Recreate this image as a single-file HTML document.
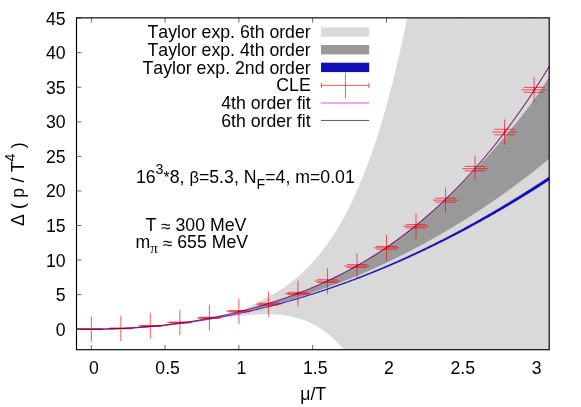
<!DOCTYPE html>
<html><head><meta charset="utf-8"><title>plot</title><style>html,body{margin:0;padding:0;background:#fff}body{width:581px;height:407px;overflow:hidden;position:relative}</style></head><body>
<svg width="581" height="407" viewBox="0 0 581 407" style="position:absolute;left:0;top:0;will-change:transform">
<defs><clipPath id="cp"><rect x="76.5" y="17.85" width="472.70000000000005" height="331.84999999999997"/></clipPath></defs>
<rect width="581" height="407" fill="#fff"/>
<path d="M91.30,349.7v-4.8 M91.30,17.85v4.8 M165.10,349.7v-4.8 M165.10,17.85v4.8 M238.90,349.7v-4.8 M238.90,17.85v4.8 M312.70,349.7v-4.8 M312.70,17.85v4.8 M386.50,349.7v-4.8 M386.50,17.85v4.8 M460.30,349.7v-4.8 M460.30,17.85v4.8 M534.10,349.7v-4.8 M534.10,17.85v4.8 M76.5,329.20h4.8 M549.2,329.20h-4.8 M76.5,294.63h4.8 M549.2,294.63h-4.8 M76.5,260.06h4.8 M549.2,260.06h-4.8 M76.5,225.50h4.8 M549.2,225.50h-4.8 M76.5,190.93h4.8 M549.2,190.93h-4.8 M76.5,156.36h4.8 M549.2,156.36h-4.8 M76.5,121.79h4.8 M549.2,121.79h-4.8 M76.5,87.23h4.8 M549.2,87.23h-4.8 M76.5,52.66h4.8 M549.2,52.66h-4.8 M76.5,18.09h4.8 M549.2,18.09h-4.8" stroke="#000" stroke-width="0.6" fill="none"/>
<g clip-path="url(#cp)">
<path d="M75.80,329.03 L76.75,329.05 L77.70,329.07 L78.65,329.08 L79.60,329.10 L80.55,329.12 L81.50,329.13 L82.45,329.14 L83.40,329.15 L84.35,329.16 L85.30,329.17 L86.25,329.18 L87.20,329.19 L88.15,329.19 L89.09,329.20 L90.04,329.20 L90.99,329.20 L91.94,329.20 L92.89,329.20 L93.84,329.19 L94.79,329.19 L95.74,329.19 L96.69,329.18 L97.64,329.17 L98.59,329.16 L99.54,329.15 L100.49,329.14 L101.44,329.13 L102.39,329.11 L103.34,329.09 L104.29,329.08 L105.24,329.06 L106.19,329.04 L107.14,329.02 L108.08,329.00 L109.03,328.97 L109.98,328.95 L110.93,328.92 L111.88,328.89 L112.83,328.86 L113.78,328.83 L114.73,328.80 L115.68,328.77 L116.63,328.74 L117.58,328.70 L118.53,328.66 L119.48,328.63 L120.43,328.59 L121.38,328.55 L122.33,328.50 L123.28,328.46 L124.23,328.42 L125.18,328.37 L126.13,328.32 L127.07,328.27 L128.02,328.22 L128.97,328.17 L129.92,328.12 L130.87,328.07 L131.82,328.01 L132.77,327.95 L133.72,327.89 L134.67,327.84 L135.62,327.77 L136.57,327.71 L137.52,327.65 L138.47,327.58 L139.42,327.52 L140.37,327.45 L141.32,327.38 L142.27,327.31 L143.22,327.24 L144.17,327.17 L145.11,327.09 L146.06,327.02 L147.01,326.94 L147.96,326.86 L148.91,326.78 L149.86,326.70 L150.81,326.62 L151.76,326.53 L152.71,326.45 L153.66,326.36 L154.61,326.27 L155.56,326.18 L156.51,326.09 L157.46,326.00 L158.41,325.90 L159.36,325.81 L160.31,325.71 L161.26,325.61 L162.21,325.51 L163.16,325.41 L164.10,325.31 L165.05,325.21 L166.00,325.10 L166.95,324.99 L167.90,324.88 L168.85,324.77 L169.80,324.66 L170.75,324.55 L171.70,324.44 L172.65,324.32 L173.60,324.20 L174.55,324.08 L175.50,323.96 L176.45,323.84 L177.40,323.72 L178.35,323.60 L179.30,323.47 L180.25,323.34 L181.20,323.21 L182.14,323.08 L183.09,322.95 L184.04,322.82 L184.99,322.68 L185.94,322.54 L186.89,322.40 L187.84,322.26 L188.79,322.12 L189.74,321.98 L190.69,321.84 L191.64,321.69 L192.59,321.54 L193.54,321.39 L194.49,321.24 L195.44,321.09 L196.39,320.93 L197.34,320.78 L198.29,320.62 L199.24,320.46 L200.19,320.30 L201.13,320.14 L202.08,319.98 L203.03,319.81 L203.98,319.64 L204.93,319.47 L205.88,319.30 L206.83,319.13 L207.78,318.96 L208.73,318.78 L209.68,318.61 L210.63,318.43 L211.58,318.25 L212.53,318.06 L213.48,317.88 L214.43,317.69 L215.38,317.51 L216.33,317.32 L217.28,317.13 L218.23,316.93 L219.18,316.74 L220.12,316.54 L221.07,316.35 L222.02,316.15 L222.97,315.95 L223.92,315.74 L224.87,315.54 L225.82,315.33 L226.77,315.12 L227.72,314.91 L228.67,314.70 L229.62,314.49 L230.57,314.27 L231.52,314.05 L232.47,313.83 L233.42,313.61 L234.37,313.39 L235.32,313.16 L236.27,312.94 L237.22,312.71 L238.16,312.48 L239.11,312.19 L240.06,311.73 L241.01,311.27 L241.96,310.80 L242.91,310.33 L243.86,309.86 L244.81,309.38 L245.76,308.91 L246.71,308.43 L247.66,307.95 L248.61,307.47 L249.56,306.99 L250.51,306.50 L251.46,306.01 L252.41,305.53 L253.36,305.03 L254.31,304.54 L255.26,304.05 L256.21,303.55 L257.15,303.05 L258.10,302.55 L259.05,302.04 L260.00,301.54 L260.95,301.03 L261.90,300.52 L262.85,300.01 L263.80,299.49 L264.75,298.98 L265.70,298.46 L266.65,297.94 L267.60,297.42 L268.55,296.90 L269.50,296.38 L270.45,295.85 L271.40,295.32 L272.35,294.78 L273.30,294.23 L274.25,293.67 L275.20,293.10 L276.14,292.53 L277.09,291.94 L278.04,291.35 L278.99,290.75 L279.94,290.14 L280.89,289.52 L281.84,288.89 L282.79,288.25 L283.74,287.60 L284.69,286.94 L285.64,286.27 L286.59,285.59 L287.54,284.90 L288.49,284.20 L289.44,283.49 L290.39,282.77 L291.34,282.03 L292.29,281.29 L293.24,280.53 L294.18,279.77 L295.13,278.99 L296.08,278.19 L297.03,277.39 L297.98,276.57 L298.93,275.74 L299.88,274.90 L300.83,274.04 L301.78,273.18 L302.73,272.29 L303.68,271.40 L304.63,270.49 L305.58,269.56 L306.53,268.62 L307.48,267.67 L308.43,266.70 L309.38,265.72 L310.33,264.72 L311.28,263.71 L312.23,262.68 L313.17,261.63 L314.12,260.57 L315.07,259.49 L316.02,258.39 L316.97,257.28 L317.92,256.15 L318.87,255.00 L319.82,253.84 L320.77,252.65 L321.72,251.45 L322.67,250.23 L323.62,248.99 L324.57,247.73 L325.52,246.45 L326.47,245.15 L327.42,243.83 L328.37,242.49 L329.32,241.13 L330.27,239.75 L331.22,238.34 L332.16,236.92 L333.11,235.47 L334.06,234.00 L335.01,232.51 L335.96,230.99 L336.91,229.45 L337.86,227.88 L338.81,226.30 L339.76,224.68 L340.71,223.04 L341.66,221.38 L342.61,219.69 L343.56,217.98 L344.51,216.23 L345.46,214.46 L346.41,212.67 L347.36,210.84 L348.31,208.99 L349.26,207.11 L350.20,205.20 L351.15,203.26 L352.10,201.29 L353.05,199.29 L354.00,197.26 L354.95,195.20 L355.90,193.11 L356.85,190.98 L357.80,188.82 L358.75,186.63 L359.70,184.40 L360.65,182.15 L361.60,179.85 L362.55,177.52 L363.50,175.16 L364.45,172.76 L365.40,170.32 L366.35,167.85 L367.30,165.34 L368.25,162.79 L369.19,160.20 L370.14,157.57 L371.09,154.90 L372.04,152.19 L372.99,149.44 L373.94,146.65 L374.89,143.82 L375.84,140.95 L376.79,138.03 L377.74,135.06 L378.69,132.06 L379.64,129.00 L380.59,125.91 L381.54,122.76 L382.49,119.57 L383.44,116.33 L384.39,113.04 L385.34,109.70 L386.29,106.32 L387.24,102.88 L388.18,99.39 L389.13,95.85 L390.08,92.26 L391.03,88.61 L391.98,84.91 L392.93,81.16 L393.88,77.35 L394.83,73.48 L395.78,69.56 L396.73,65.57 L397.68,61.53 L398.63,57.44 L399.58,53.28 L400.53,49.06 L401.48,44.77 L402.43,40.43 L403.38,36.02 L404.33,31.55 L405.28,27.01 L406.22,22.41 L407.17,17.74 L408.12,13.00 L409.07,8.20 L410.02,3.32 L410.97,-1.63 L411.92,-6.64 L412.87,-11.73 L413.82,-16.90 L414.77,-22.13 L415.72,-27.45 L416.67,-32.83 L417.62,-38.30 L418.57,-43.84 L419.52,-49.47 L420.47,-55.17 L421.42,-60.95 L422.37,-66.82 L423.32,-72.77 L424.27,-78.80 L425.21,-84.92 L426.16,-85.61 L427.11,-85.61 L428.06,-85.61 L429.01,-85.61 L429.96,-85.61 L430.91,-85.61 L431.86,-85.61 L432.81,-85.61 L433.76,-85.61 L434.71,-85.61 L435.66,-85.61 L436.61,-85.61 L437.56,-85.61 L438.51,-85.61 L439.46,-85.61 L440.41,-85.61 L441.36,-85.61 L442.31,-85.61 L443.26,-85.61 L444.20,-85.61 L445.15,-85.61 L446.10,-85.61 L447.05,-85.61 L448.00,-85.61 L448.95,-85.61 L449.90,-85.61 L450.85,-85.61 L451.80,-85.61 L452.75,-85.61 L453.70,-85.61 L454.65,-85.61 L455.60,-85.61 L456.55,-85.61 L457.50,-85.61 L458.45,-85.61 L459.40,-85.61 L460.35,-85.61 L461.30,-85.61 L462.24,-85.61 L463.19,-85.61 L464.14,-85.61 L465.09,-85.61 L466.04,-85.61 L466.99,-85.61 L467.94,-85.61 L468.89,-85.61 L469.84,-85.61 L470.79,-85.61 L471.74,-85.61 L472.69,-85.61 L473.64,-85.61 L474.59,-85.61 L475.54,-85.61 L476.49,-85.61 L477.44,-85.61 L478.39,-85.61 L479.34,-85.61 L480.29,-85.61 L481.23,-85.61 L482.18,-85.61 L483.13,-85.61 L484.08,-85.61 L485.03,-85.61 L485.98,-85.61 L486.93,-85.61 L487.88,-85.61 L488.83,-85.61 L489.78,-85.61 L490.73,-85.61 L491.68,-85.61 L492.63,-85.61 L493.58,-85.61 L494.53,-85.61 L495.48,-85.61 L496.43,-85.61 L497.38,-85.61 L498.33,-85.61 L499.27,-85.61 L500.22,-85.61 L501.17,-85.61 L502.12,-85.61 L503.07,-85.61 L504.02,-85.61 L504.97,-85.61 L505.92,-85.61 L506.87,-85.61 L507.82,-85.61 L508.77,-85.61 L509.72,-85.61 L510.67,-85.61 L511.62,-85.61 L512.57,-85.61 L513.52,-85.61 L514.47,-85.61 L515.42,-85.61 L516.37,-85.61 L517.32,-85.61 L518.26,-85.61 L519.21,-85.61 L520.16,-85.61 L521.11,-85.61 L522.06,-85.61 L523.01,-85.61 L523.96,-85.61 L524.91,-85.61 L525.86,-85.61 L526.81,-85.61 L527.76,-85.61 L528.71,-85.61 L529.66,-85.61 L530.61,-85.61 L531.56,-85.61 L532.51,-85.61 L533.46,-85.61 L534.41,-85.61 L535.36,-85.61 L536.31,-85.61 L537.25,-85.61 L538.20,-85.61 L539.15,-85.61 L540.10,-85.61 L541.05,-85.61 L542.00,-85.61 L542.95,-85.61 L543.90,-85.61 L544.85,-85.61 L545.80,-85.61 L546.75,-85.61 L547.70,-85.61 L548.65,-85.61 L549.60,-85.61 L549.60,412.16 L548.65,412.16 L547.70,412.16 L546.75,412.16 L545.80,412.16 L544.85,412.16 L543.90,412.16 L542.95,412.16 L542.00,412.16 L541.05,412.16 L540.10,412.16 L539.15,412.16 L538.20,412.16 L537.25,412.16 L536.31,412.16 L535.36,412.16 L534.41,412.16 L533.46,412.16 L532.51,412.16 L531.56,412.16 L530.61,412.16 L529.66,412.16 L528.71,412.16 L527.76,412.16 L526.81,412.16 L525.86,412.16 L524.91,412.16 L523.96,412.16 L523.01,412.16 L522.06,412.16 L521.11,412.16 L520.16,412.16 L519.21,412.16 L518.26,412.16 L517.32,412.16 L516.37,412.16 L515.42,412.16 L514.47,412.16 L513.52,412.16 L512.57,412.16 L511.62,412.16 L510.67,412.16 L509.72,412.16 L508.77,412.16 L507.82,412.16 L506.87,412.16 L505.92,412.16 L504.97,412.16 L504.02,412.16 L503.07,412.16 L502.12,412.16 L501.17,412.16 L500.22,412.16 L499.27,412.16 L498.33,412.16 L497.38,412.16 L496.43,412.16 L495.48,412.16 L494.53,412.16 L493.58,412.16 L492.63,412.16 L491.68,412.16 L490.73,412.16 L489.78,412.16 L488.83,412.16 L487.88,412.16 L486.93,412.16 L485.98,412.16 L485.03,412.16 L484.08,412.16 L483.13,412.16 L482.18,412.16 L481.23,412.16 L480.29,412.16 L479.34,412.16 L478.39,412.16 L477.44,412.16 L476.49,412.16 L475.54,412.16 L474.59,412.16 L473.64,412.16 L472.69,412.16 L471.74,412.16 L470.79,412.16 L469.84,412.16 L468.89,412.16 L467.94,412.16 L466.99,412.16 L466.04,412.16 L465.09,412.16 L464.14,412.16 L463.19,412.16 L462.24,412.16 L461.30,412.16 L460.35,412.16 L459.40,412.16 L458.45,412.16 L457.50,412.16 L456.55,412.16 L455.60,412.16 L454.65,412.16 L453.70,412.16 L452.75,412.16 L451.80,412.16 L450.85,412.16 L449.90,412.16 L448.95,412.16 L448.00,412.16 L447.05,412.16 L446.10,412.16 L445.15,412.16 L444.20,412.16 L443.26,412.16 L442.31,412.16 L441.36,412.16 L440.41,412.16 L439.46,412.16 L438.51,412.16 L437.56,412.16 L436.61,412.16 L435.66,412.16 L434.71,412.16 L433.76,412.16 L432.81,412.16 L431.86,412.16 L430.91,412.16 L429.96,412.16 L429.01,412.16 L428.06,412.16 L427.11,412.16 L426.16,412.16 L425.21,412.16 L424.27,412.16 L423.32,412.16 L422.37,412.16 L421.42,412.16 L420.47,412.16 L419.52,412.16 L418.57,412.16 L417.62,412.16 L416.67,412.16 L415.72,412.16 L414.77,412.16 L413.82,412.16 L412.87,412.16 L411.92,412.16 L410.97,412.16 L410.02,412.16 L409.07,412.16 L408.12,412.16 L407.17,412.16 L406.22,412.16 L405.28,412.16 L404.33,412.16 L403.38,412.16 L402.43,412.16 L401.48,412.16 L400.53,412.16 L399.58,412.16 L398.63,412.16 L397.68,412.16 L396.73,412.16 L395.78,412.16 L394.83,412.16 L393.88,412.16 L392.93,412.16 L391.98,412.16 L391.03,412.16 L390.08,412.16 L389.13,412.16 L388.18,412.16 L387.24,412.16 L386.29,412.16 L385.34,412.16 L384.39,412.16 L383.44,412.16 L382.49,412.16 L381.54,412.16 L380.59,412.16 L379.64,412.16 L378.69,412.16 L377.74,412.16 L376.79,411.42 L375.84,408.99 L374.89,406.60 L373.94,404.26 L372.99,401.97 L372.04,399.71 L371.09,397.50 L370.14,395.34 L369.19,393.21 L368.25,391.13 L367.30,389.09 L366.35,387.09 L365.40,385.13 L364.45,383.20 L363.50,381.32 L362.55,379.48 L361.60,377.67 L360.65,375.90 L359.70,374.17 L358.75,372.47 L357.80,370.80 L356.85,369.18 L355.90,367.58 L354.95,366.03 L354.00,364.50 L353.05,363.01 L352.10,361.55 L351.15,360.12 L350.20,358.72 L349.26,357.36 L348.31,356.02 L347.36,354.71 L346.41,353.44 L345.46,352.19 L344.51,350.97 L343.56,349.78 L342.61,348.62 L341.66,347.48 L340.71,346.38 L339.76,345.29 L338.81,344.24 L337.86,343.21 L336.91,342.20 L335.96,341.22 L335.01,340.27 L334.06,339.33 L333.11,338.42 L332.16,337.54 L331.22,336.68 L330.27,335.84 L329.32,335.02 L328.37,334.22 L327.42,333.45 L326.47,332.69 L325.52,331.96 L324.57,331.24 L323.62,330.55 L322.67,329.88 L321.72,329.22 L320.77,328.58 L319.82,327.97 L318.87,327.37 L317.92,326.78 L316.97,326.22 L316.02,325.67 L315.07,325.14 L314.12,324.63 L313.17,324.13 L312.23,323.65 L311.28,323.18 L310.33,322.73 L309.38,322.30 L308.43,321.88 L307.48,321.47 L306.53,321.08 L305.58,320.70 L304.63,320.33 L303.68,319.98 L302.73,319.65 L301.78,319.32 L300.83,319.01 L299.88,318.71 L298.93,318.42 L297.98,318.15 L297.03,317.88 L296.08,317.63 L295.13,317.39 L294.18,317.16 L293.24,316.94 L292.29,316.73 L291.34,316.53 L290.39,316.34 L289.44,316.16 L288.49,315.99 L287.54,315.83 L286.59,315.68 L285.64,315.53 L284.69,315.40 L283.74,315.27 L282.79,315.16 L281.84,315.05 L280.89,314.95 L279.94,314.86 L278.99,314.77 L278.04,314.69 L277.09,314.62 L276.14,314.56 L275.20,314.50 L274.25,314.45 L273.30,314.41 L272.35,314.37 L271.40,314.34 L270.45,314.32 L269.50,314.30 L268.55,314.29 L267.60,314.28 L266.65,314.28 L265.70,314.28 L264.75,314.29 L263.80,314.31 L262.85,314.32 L261.90,314.35 L260.95,314.38 L260.00,314.41 L259.05,314.45 L258.10,314.49 L257.15,314.53 L256.21,314.58 L255.26,314.64 L254.31,314.69 L253.36,314.75 L252.41,314.82 L251.46,314.88 L250.51,314.95 L249.56,315.03 L248.61,315.11 L247.66,315.19 L246.71,315.27 L245.76,315.35 L244.81,315.44 L243.86,315.53 L242.91,315.62 L241.96,315.72 L241.01,315.82 L240.06,315.92 L239.11,316.02 L238.16,316.12 L237.22,316.23 L236.27,316.34 L235.32,316.45 L234.37,316.56 L233.42,316.67 L232.47,316.78 L231.52,316.90 L230.57,317.01 L229.62,317.13 L228.67,317.25 L227.72,317.37 L226.77,317.49 L225.82,317.62 L224.87,317.74 L223.92,317.86 L222.97,317.99 L222.02,318.11 L221.07,318.24 L220.12,318.37 L219.18,318.49 L218.23,318.62 L217.28,318.75 L216.33,318.88 L215.38,319.01 L214.43,319.14 L213.48,319.27 L212.53,319.40 L211.58,319.53 L210.63,319.66 L209.68,319.79 L208.73,319.92 L207.78,320.05 L206.83,320.18 L205.88,320.31 L204.93,320.44 L203.98,320.57 L203.03,320.70 L202.08,320.83 L201.13,320.95 L200.19,321.08 L199.24,321.21 L198.29,321.34 L197.34,321.47 L196.39,321.59 L195.44,321.72 L194.49,321.84 L193.54,321.97 L192.59,322.09 L191.64,322.22 L190.69,322.34 L189.74,322.46 L188.79,322.59 L187.84,322.71 L186.89,322.83 L185.94,322.95 L184.99,323.07 L184.04,323.18 L183.09,323.30 L182.14,323.42 L181.20,323.53 L180.25,323.65 L179.30,323.76 L178.35,323.87 L177.40,323.99 L176.45,324.10 L175.50,324.21 L174.55,324.32 L173.60,324.42 L172.65,324.53 L171.70,324.64 L170.75,324.74 L169.80,324.84 L168.85,324.95 L167.90,325.05 L166.95,325.15 L166.00,325.25 L165.05,325.35 L164.10,325.44 L163.16,325.54 L162.21,325.63 L161.26,325.73 L160.31,325.82 L159.36,325.91 L158.41,326.00 L157.46,326.09 L156.51,326.18 L155.56,326.27 L154.61,326.35 L153.66,326.44 L152.71,326.52 L151.76,326.60 L150.81,326.68 L149.86,326.76 L148.91,326.84 L147.96,326.92 L147.01,326.99 L146.06,327.07 L145.11,327.14 L144.17,327.21 L143.22,327.28 L142.27,327.35 L141.32,327.42 L140.37,327.49 L139.42,327.55 L138.47,327.62 L137.52,327.68 L136.57,327.74 L135.62,327.80 L134.67,327.86 L133.72,327.92 L132.77,327.98 L131.82,328.03 L130.87,328.08 L129.92,328.14 L128.97,328.19 L128.02,328.24 L127.07,328.29 L126.13,328.34 L125.18,328.38 L124.23,328.43 L123.28,328.47 L122.33,328.51 L121.38,328.56 L120.43,328.60 L119.48,328.63 L118.53,328.67 L117.58,328.71 L116.63,328.74 L115.68,328.78 L114.73,328.81 L113.78,328.84 L112.83,328.87 L111.88,328.90 L110.93,328.93 L109.98,328.95 L109.03,328.98 L108.08,329.00 L107.14,329.02 L106.19,329.04 L105.24,329.06 L104.29,329.08 L103.34,329.10 L102.39,329.11 L101.44,329.13 L100.49,329.14 L99.54,329.15 L98.59,329.16 L97.64,329.17 L96.69,329.18 L95.74,329.19 L94.79,329.19 L93.84,329.19 L92.89,329.20 L91.94,329.20 L90.99,329.20 L90.04,329.20 L89.09,329.20 L88.15,329.19 L87.20,329.19 L86.25,329.18 L85.30,329.17 L84.35,329.17 L83.40,329.15 L82.45,329.14 L81.50,329.13 L80.55,329.12 L79.60,329.10 L78.65,329.09 L77.70,329.07 L76.75,329.05 L75.80,329.03Z" fill="#d9d9d9"/>
<path d="M75.80,329.01 L76.75,329.03 L77.70,329.05 L78.65,329.07 L79.60,329.09 L80.55,329.11 L81.50,329.12 L82.45,329.13 L83.40,329.15 L84.35,329.16 L85.30,329.17 L86.25,329.18 L87.20,329.18 L88.15,329.19 L89.09,329.19 L90.04,329.20 L90.99,329.20 L91.94,329.20 L92.89,329.20 L93.84,329.20 L94.79,329.19 L95.74,329.19 L96.69,329.18 L97.64,329.18 L98.59,329.17 L99.54,329.16 L100.49,329.15 L101.44,329.13 L102.39,329.12 L103.34,329.11 L104.29,329.09 L105.24,329.07 L106.19,329.05 L107.14,329.03 L108.08,329.01 L109.03,328.99 L109.98,328.97 L110.93,328.94 L111.88,328.91 L112.83,328.89 L113.78,328.86 L114.73,328.83 L115.68,328.79 L116.63,328.76 L117.58,328.73 L118.53,328.69 L119.48,328.65 L120.43,328.61 L121.38,328.57 L122.33,328.53 L123.28,328.49 L124.23,328.45 L125.18,328.40 L126.13,328.35 L127.07,328.31 L128.02,328.26 L128.97,328.21 L129.92,328.16 L130.87,328.10 L131.82,328.05 L132.77,327.99 L133.72,327.93 L134.67,327.88 L135.62,327.82 L136.57,327.75 L137.52,327.69 L138.47,327.63 L139.42,327.56 L140.37,327.50 L141.32,327.43 L142.27,327.36 L143.22,327.29 L144.17,327.22 L145.11,327.14 L146.06,327.07 L147.01,326.99 L147.96,326.91 L148.91,326.83 L149.86,326.75 L150.81,326.67 L151.76,326.59 L152.71,326.50 L153.66,326.42 L154.61,326.33 L155.56,326.24 L156.51,326.15 L157.46,326.06 L158.41,325.97 L159.36,325.87 L160.31,325.78 L161.26,325.68 L162.21,325.58 L163.16,325.48 L164.10,325.38 L165.05,325.27 L166.00,325.17 L166.95,325.06 L167.90,324.96 L168.85,324.85 L169.80,324.74 L170.75,324.63 L171.70,324.51 L172.65,324.40 L173.60,324.28 L174.55,324.16 L175.50,324.04 L176.45,323.92 L177.40,323.80 L178.35,323.68 L179.30,323.55 L180.25,323.42 L181.20,323.30 L182.14,323.17 L183.09,323.03 L184.04,322.90 L184.99,322.77 L185.94,322.63 L186.89,322.49 L187.84,322.35 L188.79,322.21 L189.74,322.07 L190.69,321.93 L191.64,321.78 L192.59,321.64 L193.54,321.49 L194.49,321.34 L195.44,321.19 L196.39,321.03 L197.34,320.88 L198.29,320.72 L199.24,320.56 L200.19,320.40 L201.13,320.24 L202.08,320.08 L203.03,319.91 L203.98,319.75 L204.93,319.58 L205.88,319.41 L206.83,319.24 L207.78,319.07 L208.73,318.89 L209.68,318.72 L210.63,318.54 L211.58,318.36 L212.53,318.18 L213.48,317.99 L214.43,317.81 L215.38,317.62 L216.33,317.43 L217.28,317.24 L218.23,317.05 L219.18,316.86 L220.12,316.66 L221.07,316.47 L222.02,316.27 L222.97,316.07 L223.92,315.87 L224.87,315.66 L225.82,315.46 L226.77,315.25 L227.72,315.04 L228.67,314.83 L229.62,314.62 L230.57,314.40 L231.52,314.18 L232.47,313.97 L233.42,313.75 L234.37,313.52 L235.32,313.30 L236.27,313.07 L237.22,312.85 L238.16,312.62 L239.11,312.38 L240.06,312.15 L241.01,311.91 L241.96,311.68 L242.91,311.44 L243.86,311.19 L244.81,310.95 L245.76,310.70 L246.71,310.46 L247.66,310.21 L248.61,309.95 L249.56,309.70 L250.51,309.45 L251.46,309.19 L252.41,308.93 L253.36,308.67 L254.31,308.40 L255.26,308.14 L256.21,307.87 L257.15,307.60 L258.10,307.33 L259.05,307.05 L260.00,306.78 L260.95,306.50 L261.90,306.22 L262.85,305.94 L263.80,305.65 L264.75,305.36 L265.70,305.08 L266.65,304.79 L267.60,304.49 L268.55,304.20 L269.50,303.90 L270.45,303.60 L271.40,303.30 L272.35,302.99 L273.30,302.69 L274.25,302.38 L275.20,302.07 L276.14,301.76 L277.09,301.44 L278.04,301.12 L278.99,300.81 L279.94,300.48 L280.89,300.16 L281.84,299.83 L282.79,299.50 L283.74,299.17 L284.69,298.84 L285.64,298.51 L286.59,298.17 L287.54,297.83 L288.49,297.48 L289.44,297.14 L290.39,296.79 L291.34,296.44 L292.29,296.09 L293.24,295.74 L294.18,295.38 L295.13,295.02 L296.08,294.66 L297.03,294.29 L297.98,293.93 L298.93,293.56 L299.88,293.19 L300.83,292.81 L301.78,292.43 L302.73,292.06 L303.68,291.67 L304.63,291.29 L305.58,290.90 L306.53,290.51 L307.48,290.12 L308.43,289.73 L309.38,289.33 L310.33,288.93 L311.28,288.53 L312.23,288.12 L313.17,287.72 L314.12,287.30 L315.07,286.89 L316.02,286.48 L316.97,286.06 L317.92,285.64 L318.87,285.21 L319.82,284.79 L320.77,284.36 L321.72,283.93 L322.67,283.49 L323.62,283.05 L324.57,282.61 L325.52,282.17 L326.47,281.72 L327.42,281.28 L328.37,280.82 L329.32,280.37 L330.27,279.91 L331.22,279.45 L332.16,278.99 L333.11,278.52 L334.06,278.05 L335.01,277.58 L335.96,277.11 L336.91,276.63 L337.86,276.15 L338.81,275.67 L339.76,275.18 L340.71,274.69 L341.66,274.20 L342.61,273.70 L343.56,273.20 L344.51,272.70 L345.46,272.20 L346.41,271.69 L347.36,271.18 L348.31,270.67 L349.26,270.15 L350.20,269.63 L351.15,269.11 L352.10,268.58 L353.05,268.05 L354.00,267.52 L354.95,266.98 L355.90,266.44 L356.85,265.90 L357.80,265.35 L358.75,264.80 L359.70,264.25 L360.65,263.70 L361.60,263.14 L362.55,262.58 L363.50,262.01 L364.45,261.44 L365.40,260.87 L366.35,260.29 L367.30,259.72 L368.25,259.13 L369.19,258.55 L370.14,257.96 L371.09,257.37 L372.04,256.77 L372.99,256.17 L373.94,255.57 L374.89,254.96 L375.84,254.35 L376.79,253.74 L377.74,253.12 L378.69,252.50 L379.64,251.88 L380.59,251.25 L381.54,250.62 L382.49,249.98 L383.44,249.34 L384.39,248.70 L385.34,248.06 L386.29,247.41 L387.24,246.75 L388.18,246.10 L389.13,245.44 L390.08,244.77 L391.03,244.10 L391.98,243.43 L392.93,242.76 L393.88,242.08 L394.83,241.39 L395.78,240.71 L396.73,240.02 L397.68,239.32 L398.63,238.62 L399.58,237.92 L400.53,237.21 L401.48,236.50 L402.43,235.79 L403.38,235.07 L404.33,234.35 L405.28,233.62 L406.22,232.89 L407.17,232.16 L408.12,231.42 L409.07,230.68 L410.02,229.93 L410.97,229.18 L411.92,228.42 L412.87,227.67 L413.82,226.90 L414.77,226.14 L415.72,225.36 L416.67,224.59 L417.62,223.81 L418.57,223.02 L419.52,222.24 L420.47,221.44 L421.42,220.65 L422.37,219.85 L423.32,219.04 L424.27,218.23 L425.21,217.42 L426.16,216.60 L427.11,215.78 L428.06,214.95 L429.01,214.12 L429.96,213.28 L430.91,212.44 L431.86,211.60 L432.81,210.75 L433.76,209.89 L434.71,209.03 L435.66,208.17 L436.61,207.30 L437.56,206.43 L438.51,205.55 L439.46,204.67 L440.41,203.79 L441.36,202.90 L442.31,202.00 L443.26,201.10 L444.20,200.20 L445.15,199.29 L446.10,198.39 L447.05,197.50 L448.00,196.61 L448.95,195.71 L449.90,194.81 L450.85,193.90 L451.80,192.99 L452.75,192.08 L453.70,191.15 L454.65,190.23 L455.60,189.30 L456.55,188.36 L457.50,187.42 L458.45,186.47 L459.40,185.52 L460.35,184.57 L461.30,183.64 L462.24,182.71 L463.19,181.77 L464.14,180.83 L465.09,179.89 L466.04,178.93 L466.99,177.98 L467.94,177.02 L468.89,176.05 L469.84,175.08 L470.79,174.10 L471.74,173.12 L472.69,172.13 L473.64,171.14 L474.59,170.14 L475.54,169.14 L476.49,168.16 L477.44,167.16 L478.39,166.17 L479.34,165.16 L480.29,164.16 L481.23,163.14 L482.18,162.12 L483.13,161.10 L484.08,160.07 L485.03,159.03 L485.98,157.99 L486.93,156.94 L487.88,155.89 L488.83,154.83 L489.78,153.77 L490.73,152.72 L491.68,151.66 L492.63,150.60 L493.58,149.54 L494.53,148.47 L495.48,147.39 L496.43,146.31 L497.38,145.22 L498.33,144.13 L499.27,143.03 L500.22,141.92 L501.17,140.81 L502.12,139.70 L503.07,138.57 L504.02,137.44 L504.97,136.32 L505.92,135.22 L506.87,134.11 L507.82,132.99 L508.77,131.86 L509.72,130.74 L510.67,129.60 L511.62,128.46 L512.57,127.31 L513.52,126.15 L514.47,124.99 L515.42,123.83 L516.37,122.65 L517.32,121.48 L518.26,120.29 L519.21,119.10 L520.16,117.91 L521.11,116.71 L522.06,115.51 L523.01,114.30 L523.96,113.09 L524.91,111.86 L525.86,110.64 L526.81,109.40 L527.76,108.16 L528.71,106.91 L529.66,105.66 L530.61,104.40 L531.56,103.13 L532.51,101.86 L533.46,100.58 L534.41,99.26 L535.36,97.88 L536.31,96.49 L537.25,95.10 L538.20,93.69 L539.15,92.28 L540.10,90.87 L541.05,89.44 L542.00,88.01 L542.95,86.58 L543.90,85.13 L544.85,83.68 L545.80,82.22 L546.75,80.76 L547.70,79.29 L548.65,77.81 L549.60,76.27 L549.60,158.55 L548.65,159.33 L547.70,160.10 L546.75,160.88 L545.80,161.65 L544.85,162.42 L543.90,163.19 L542.95,163.95 L542.00,164.72 L541.05,165.48 L540.10,166.24 L539.15,166.99 L538.20,167.75 L537.25,168.50 L536.31,169.25 L535.36,170.00 L534.41,170.74 L533.46,171.49 L532.51,172.23 L531.56,172.97 L530.61,173.70 L529.66,174.44 L528.71,175.17 L527.76,175.90 L526.81,176.63 L525.86,177.36 L524.91,178.08 L523.96,178.80 L523.01,179.52 L522.06,180.24 L521.11,180.96 L520.16,181.67 L519.21,182.38 L518.26,183.09 L517.32,183.80 L516.37,184.50 L515.42,185.21 L514.47,185.91 L513.52,186.61 L512.57,187.30 L511.62,188.00 L510.67,188.69 L509.72,189.38 L508.77,190.07 L507.82,190.76 L506.87,191.44 L505.92,192.12 L504.97,192.80 L504.02,193.48 L503.07,194.16 L502.12,194.83 L501.17,195.51 L500.22,196.18 L499.27,196.84 L498.33,197.51 L497.38,198.17 L496.43,198.84 L495.48,199.50 L494.53,200.15 L493.58,200.81 L492.63,201.46 L491.68,202.12 L490.73,202.77 L489.78,203.41 L488.83,204.06 L487.88,204.70 L486.93,205.35 L485.98,205.99 L485.03,206.62 L484.08,207.26 L483.13,207.89 L482.18,208.53 L481.23,209.16 L480.29,209.79 L479.34,210.41 L478.39,211.04 L477.44,211.66 L476.49,212.28 L475.54,212.90 L474.59,213.51 L473.64,214.13 L472.69,214.74 L471.74,215.35 L470.79,215.96 L469.84,216.57 L468.89,217.17 L467.94,217.78 L466.99,218.38 L466.04,218.98 L465.09,219.57 L464.14,220.17 L463.19,220.76 L462.24,221.35 L461.30,221.94 L460.35,222.53 L459.40,223.12 L458.45,223.70 L457.50,224.28 L456.55,224.86 L455.60,225.44 L454.65,226.02 L453.70,226.59 L452.75,227.16 L451.80,227.73 L450.85,228.30 L449.90,228.87 L448.95,229.43 L448.00,230.00 L447.05,230.56 L446.10,231.12 L445.15,231.68 L444.20,232.23 L443.26,232.79 L442.31,233.34 L441.36,233.89 L440.41,234.44 L439.46,234.98 L438.51,235.53 L437.56,236.07 L436.61,236.61 L435.66,237.15 L434.71,237.69 L433.76,238.22 L432.81,238.76 L431.86,239.29 L430.91,239.82 L429.96,240.35 L429.01,240.87 L428.06,241.40 L427.11,241.92 L426.16,242.44 L425.21,242.96 L424.27,243.48 L423.32,244.00 L422.37,244.51 L421.42,245.02 L420.47,245.53 L419.52,246.04 L418.57,246.55 L417.62,247.05 L416.67,247.56 L415.72,248.06 L414.77,248.56 L413.82,249.06 L412.87,249.55 L411.92,250.05 L410.97,250.54 L410.02,251.03 L409.07,251.52 L408.12,252.01 L407.17,252.49 L406.22,252.98 L405.28,253.46 L404.33,253.94 L403.38,254.42 L402.43,254.90 L401.48,255.37 L400.53,255.84 L399.58,256.32 L398.63,256.79 L397.68,257.25 L396.73,257.72 L395.78,258.19 L394.83,258.65 L393.88,259.11 L392.93,259.57 L391.98,260.03 L391.03,260.49 L390.08,260.94 L389.13,261.39 L388.18,261.84 L387.24,262.29 L386.29,262.74 L385.34,263.19 L384.39,263.63 L383.44,264.08 L382.49,264.52 L381.54,264.96 L380.59,265.39 L379.64,265.83 L378.69,266.27 L377.74,266.70 L376.79,267.13 L375.84,267.56 L374.89,267.99 L373.94,268.41 L372.99,268.84 L372.04,269.26 L371.09,269.68 L370.14,270.10 L369.19,270.52 L368.25,270.94 L367.30,271.35 L366.35,271.76 L365.40,272.17 L364.45,272.58 L363.50,272.99 L362.55,273.40 L361.60,273.80 L360.65,274.21 L359.70,274.61 L358.75,275.01 L357.80,275.41 L356.85,275.80 L355.90,276.20 L354.95,276.59 L354.00,276.98 L353.05,277.37 L352.10,277.76 L351.15,278.15 L350.20,278.54 L349.26,278.92 L348.31,279.30 L347.36,279.68 L346.41,280.06 L345.46,280.44 L344.51,280.82 L343.56,281.19 L342.61,281.56 L341.66,281.93 L340.71,282.30 L339.76,282.67 L338.81,283.04 L337.86,283.40 L336.91,283.77 L335.96,284.13 L335.01,284.49 L334.06,284.85 L333.11,285.20 L332.16,285.56 L331.22,285.91 L330.27,286.26 L329.32,286.61 L328.37,286.96 L327.42,287.31 L326.47,287.66 L325.52,288.00 L324.57,288.34 L323.62,288.69 L322.67,289.03 L321.72,289.36 L320.77,289.70 L319.82,290.04 L318.87,290.37 L317.92,290.70 L316.97,291.03 L316.02,291.36 L315.07,291.69 L314.12,292.01 L313.17,292.34 L312.23,292.66 L311.28,292.99 L310.33,293.31 L309.38,293.64 L308.43,293.96 L307.48,294.28 L306.53,294.60 L305.58,294.91 L304.63,295.23 L303.68,295.54 L302.73,295.85 L301.78,296.16 L300.83,296.47 L299.88,296.78 L298.93,297.08 L297.98,297.39 L297.03,297.69 L296.08,297.99 L295.13,298.29 L294.18,298.59 L293.24,298.88 L292.29,299.18 L291.34,299.47 L290.39,299.76 L289.44,300.05 L288.49,300.34 L287.54,300.63 L286.59,300.91 L285.64,301.19 L284.69,301.48 L283.74,301.76 L282.79,302.04 L281.84,302.31 L280.89,302.59 L279.94,302.86 L278.99,303.14 L278.04,303.41 L277.09,303.68 L276.14,303.95 L275.20,304.21 L274.25,304.48 L273.30,304.74 L272.35,305.00 L271.40,305.26 L270.45,305.52 L269.50,305.78 L268.55,306.04 L267.60,306.29 L266.65,306.54 L265.70,306.80 L264.75,307.05 L263.80,307.29 L262.85,307.54 L261.90,307.79 L260.95,308.03 L260.00,308.27 L259.05,308.51 L258.10,308.75 L257.15,308.99 L256.21,309.23 L255.26,309.46 L254.31,309.70 L253.36,309.93 L252.41,310.16 L251.46,310.39 L250.51,310.62 L249.56,310.84 L248.61,311.07 L247.66,311.29 L246.71,311.51 L245.76,311.74 L244.81,311.95 L243.86,312.17 L242.91,312.39 L241.96,312.60 L241.01,312.82 L240.06,313.03 L239.11,313.24 L238.16,313.45 L237.22,313.65 L236.27,313.86 L235.32,314.06 L234.37,314.27 L233.42,314.47 L232.47,314.67 L231.52,314.87 L230.57,315.07 L229.62,315.26 L228.67,315.46 L227.72,315.65 L226.77,315.84 L225.82,316.03 L224.87,316.22 L223.92,316.41 L222.97,316.59 L222.02,316.78 L221.07,316.96 L220.12,317.14 L219.18,317.32 L218.23,317.50 L217.28,317.68 L216.33,317.85 L215.38,318.03 L214.43,318.20 L213.48,318.37 L212.53,318.54 L211.58,318.71 L210.63,318.88 L209.68,319.05 L208.73,319.21 L207.78,319.37 L206.83,319.54 L205.88,319.70 L204.93,319.86 L203.98,320.01 L203.03,320.17 L202.08,320.33 L201.13,320.48 L200.19,320.63 L199.24,320.78 L198.29,320.93 L197.34,321.08 L196.39,321.23 L195.44,321.37 L194.49,321.52 L193.54,321.66 L192.59,321.80 L191.64,321.94 L190.69,322.08 L189.74,322.21 L188.79,322.35 L187.84,322.48 L186.89,322.62 L185.94,322.75 L184.99,322.88 L184.04,323.01 L183.09,323.14 L182.14,323.26 L181.20,323.39 L180.25,323.51 L179.30,323.63 L178.35,323.75 L177.40,323.87 L176.45,323.99 L175.50,324.11 L174.55,324.22 L173.60,324.34 L172.65,324.45 L171.70,324.56 L170.75,324.67 L169.80,324.78 L168.85,324.89 L167.90,324.99 L166.95,325.10 L166.00,325.20 L165.05,325.30 L164.10,325.40 L163.16,325.50 L162.21,325.60 L161.26,325.70 L160.31,325.79 L159.36,325.88 L158.41,325.98 L157.46,326.07 L156.51,326.16 L155.56,326.25 L154.61,326.33 L153.66,326.42 L152.71,326.50 L151.76,326.59 L150.81,326.67 L149.86,326.75 L148.91,326.83 L147.96,326.91 L147.01,326.98 L146.06,327.06 L145.11,327.13 L144.17,327.21 L143.22,327.28 L142.27,327.35 L141.32,327.42 L140.37,327.48 L139.42,327.55 L138.47,327.61 L137.52,327.68 L136.57,327.74 L135.62,327.80 L134.67,327.86 L133.72,327.92 L132.77,327.98 L131.82,328.03 L130.87,328.08 L129.92,328.14 L128.97,328.19 L128.02,328.24 L127.07,328.29 L126.13,328.34 L125.18,328.38 L124.23,328.43 L123.28,328.47 L122.33,328.52 L121.38,328.56 L120.43,328.60 L119.48,328.64 L118.53,328.67 L117.58,328.71 L116.63,328.74 L115.68,328.78 L114.73,328.81 L113.78,328.84 L112.83,328.87 L111.88,328.90 L110.93,328.93 L109.98,328.95 L109.03,328.98 L108.08,329.00 L107.14,329.02 L106.19,329.04 L105.24,329.06 L104.29,329.08 L103.34,329.10 L102.39,329.11 L101.44,329.13 L100.49,329.14 L99.54,329.15 L98.59,329.16 L97.64,329.17 L96.69,329.18 L95.74,329.19 L94.79,329.19 L93.84,329.19 L92.89,329.20 L91.94,329.20 L90.99,329.20 L90.04,329.20 L89.09,329.20 L88.15,329.19 L87.20,329.19 L86.25,329.18 L85.30,329.17 L84.35,329.17 L83.40,329.16 L82.45,329.14 L81.50,329.13 L80.55,329.12 L79.60,329.10 L78.65,329.09 L77.70,329.07 L76.75,329.05 L75.80,329.03Z" fill="#999999"/>
<path d="M75.80,329.02 L76.75,329.05 L77.70,329.06 L78.65,329.08 L79.60,329.10 L80.55,329.12 L81.50,329.13 L82.45,329.14 L83.40,329.15 L84.35,329.16 L85.30,329.17 L86.25,329.18 L87.20,329.19 L88.15,329.19 L89.09,329.20 L90.04,329.20 L90.99,329.20 L91.94,329.20 L92.89,329.20 L93.84,329.19 L94.79,329.19 L95.74,329.19 L96.69,329.18 L97.64,329.17 L98.59,329.16 L99.54,329.15 L100.49,329.14 L101.44,329.12 L102.39,329.11 L103.34,329.09 L104.29,329.08 L105.24,329.06 L106.19,329.04 L107.14,329.02 L108.08,328.99 L109.03,328.97 L109.98,328.95 L110.93,328.92 L111.88,328.89 L112.83,328.86 L113.78,328.83 L114.73,328.80 L115.68,328.77 L116.63,328.73 L117.58,328.70 L118.53,328.66 L119.48,328.62 L120.43,328.58 L121.38,328.54 L122.33,328.50 L123.28,328.46 L124.23,328.41 L125.18,328.37 L126.13,328.32 L127.07,328.27 L128.02,328.22 L128.97,328.17 L129.92,328.11 L130.87,328.06 L131.82,328.01 L132.77,327.95 L133.72,327.89 L134.67,327.83 L135.62,327.77 L136.57,327.71 L137.52,327.65 L138.47,327.58 L139.42,327.52 L140.37,327.45 L141.32,327.38 L142.27,327.31 L143.22,327.24 L144.17,327.17 L145.11,327.09 L146.06,327.02 L147.01,326.94 L147.96,326.87 L148.91,326.79 L149.86,326.71 L150.81,326.62 L151.76,326.54 L152.71,326.46 L153.66,326.37 L154.61,326.29 L155.56,326.20 L156.51,326.11 L157.46,326.02 L158.41,325.93 L159.36,325.83 L160.31,325.74 L161.26,325.64 L162.21,325.54 L163.16,325.45 L164.10,325.35 L165.05,325.24 L166.00,325.14 L166.95,325.04 L167.90,324.93 L168.85,324.83 L169.80,324.72 L170.75,324.61 L171.70,324.50 L172.65,324.39 L173.60,324.28 L174.55,324.16 L175.50,324.05 L176.45,323.93 L177.40,323.81 L178.35,323.69 L179.30,323.57 L180.25,323.45 L181.20,323.32 L182.14,323.20 L183.09,323.07 L184.04,322.95 L184.99,322.82 L185.94,322.69 L186.89,322.56 L187.84,322.42 L188.79,322.29 L189.74,322.15 L190.69,322.02 L191.64,321.88 L192.59,321.74 L193.54,321.60 L194.49,321.46 L195.44,321.31 L196.39,321.17 L197.34,321.02 L198.29,320.88 L199.24,320.73 L200.19,320.58 L201.13,320.43 L202.08,320.28 L203.03,320.12 L203.98,319.97 L204.93,319.81 L205.88,319.65 L206.83,319.50 L207.78,319.34 L208.73,319.17 L209.68,319.01 L210.63,318.85 L211.58,318.68 L212.53,318.51 L213.48,318.35 L214.43,318.18 L215.38,318.01 L216.33,317.83 L217.28,317.66 L218.23,317.49 L219.18,317.31 L220.12,317.13 L221.07,316.96 L222.02,316.78 L222.97,316.59 L223.92,316.41 L224.87,316.23 L225.82,316.04 L226.77,315.86 L227.72,315.67 L228.67,315.48 L229.62,315.29 L230.57,315.10 L231.52,314.91 L232.47,314.71 L233.42,314.52 L234.37,314.32 L235.32,314.12 L236.27,313.92 L237.22,313.72 L238.16,313.52 L239.11,313.31 L240.06,313.11 L241.01,312.90 L241.96,312.70 L242.91,312.49 L243.86,312.28 L244.81,312.07 L245.76,311.85 L246.71,311.64 L247.66,311.42 L248.61,311.21 L249.56,310.99 L250.51,310.77 L251.46,310.55 L252.41,310.33 L253.36,310.11 L254.31,309.88 L255.26,309.66 L256.21,309.43 L257.15,309.20 L258.10,308.97 L259.05,308.74 L260.00,308.51 L260.95,308.27 L261.90,308.04 L262.85,307.80 L263.80,307.57 L264.75,307.33 L265.70,307.09 L266.65,306.84 L267.60,306.60 L268.55,306.36 L269.50,306.11 L270.45,305.87 L271.40,305.62 L272.35,305.37 L273.30,305.12 L274.25,304.87 L275.20,304.61 L276.14,304.36 L277.09,304.10 L278.04,303.85 L278.99,303.59 L279.94,303.33 L280.89,303.07 L281.84,302.80 L282.79,302.54 L283.74,302.27 L284.69,302.01 L285.64,301.74 L286.59,301.47 L287.54,301.20 L288.49,300.93 L289.44,300.66 L290.39,300.38 L291.34,300.11 L292.29,299.83 L293.24,299.55 L294.18,299.27 L295.13,298.99 L296.08,298.71 L297.03,298.43 L297.98,298.14 L298.93,297.86 L299.88,297.57 L300.83,297.28 L301.78,296.99 L302.73,296.70 L303.68,296.41 L304.63,296.11 L305.58,295.82 L306.53,295.52 L307.48,295.22 L308.43,294.92 L309.38,294.62 L310.33,294.32 L311.28,294.02 L312.23,293.71 L313.17,293.41 L314.12,293.10 L315.07,292.79 L316.02,292.48 L316.97,292.17 L317.92,291.86 L318.87,291.55 L319.82,291.23 L320.77,290.92 L321.72,290.60 L322.67,290.28 L323.62,289.96 L324.57,289.64 L325.52,289.32 L326.47,288.99 L327.42,288.67 L328.37,288.34 L329.32,288.01 L330.27,287.68 L331.22,287.35 L332.16,287.02 L333.11,286.69 L334.06,286.35 L335.01,286.02 L335.96,285.68 L336.91,285.34 L337.86,285.00 L338.81,284.66 L339.76,284.32 L340.71,283.97 L341.66,283.63 L342.61,283.28 L343.56,282.94 L344.51,282.59 L345.46,282.24 L346.41,281.88 L347.36,281.53 L348.31,281.18 L349.26,280.82 L350.20,280.47 L351.15,280.11 L352.10,279.75 L353.05,279.39 L354.00,279.02 L354.95,278.66 L355.90,278.30 L356.85,277.93 L357.80,277.56 L358.75,277.20 L359.70,276.83 L360.65,276.45 L361.60,276.08 L362.55,275.71 L363.50,275.33 L364.45,274.96 L365.40,274.58 L366.35,274.20 L367.30,273.82 L368.25,273.44 L369.19,273.05 L370.14,272.67 L371.09,272.28 L372.04,271.90 L372.99,271.51 L373.94,271.12 L374.89,270.73 L375.84,270.34 L376.79,269.94 L377.74,269.55 L378.69,269.15 L379.64,268.75 L380.59,268.36 L381.54,267.96 L382.49,267.55 L383.44,267.15 L384.39,266.75 L385.34,266.34 L386.29,265.94 L387.24,265.53 L388.18,265.12 L389.13,264.71 L390.08,264.30 L391.03,263.88 L391.98,263.47 L392.93,263.05 L393.88,262.64 L394.83,262.22 L395.78,261.80 L396.73,261.38 L397.68,260.95 L398.63,260.53 L399.58,260.11 L400.53,259.68 L401.48,259.25 L402.43,258.82 L403.38,258.39 L404.33,257.96 L405.28,257.53 L406.22,257.09 L407.17,256.66 L408.12,256.22 L409.07,255.78 L410.02,255.34 L410.97,254.90 L411.92,254.46 L412.87,254.02 L413.82,253.57 L414.77,253.13 L415.72,252.68 L416.67,252.23 L417.62,251.78 L418.57,251.33 L419.52,250.88 L420.47,250.42 L421.42,249.97 L422.37,249.51 L423.32,249.06 L424.27,248.60 L425.21,248.14 L426.16,247.67 L427.11,247.21 L428.06,246.75 L429.01,246.28 L429.96,245.81 L430.91,245.35 L431.86,244.88 L432.81,244.41 L433.76,243.93 L434.71,243.46 L435.66,242.99 L436.61,242.51 L437.56,242.03 L438.51,241.55 L439.46,241.07 L440.41,240.59 L441.36,240.11 L442.31,239.63 L443.26,239.14 L444.20,238.65 L445.15,238.17 L446.10,237.68 L447.05,237.19 L448.00,236.69 L448.95,236.20 L449.90,235.71 L450.85,235.21 L451.80,234.71 L452.75,234.22 L453.70,233.72 L454.65,233.21 L455.60,232.71 L456.55,232.21 L457.50,231.70 L458.45,231.20 L459.40,230.69 L460.35,230.18 L461.30,229.67 L462.24,229.16 L463.19,228.65 L464.14,228.13 L465.09,227.62 L466.04,227.10 L466.99,226.58 L467.94,226.06 L468.89,225.54 L469.84,225.02 L470.79,224.50 L471.74,223.97 L472.69,223.45 L473.64,222.92 L474.59,222.39 L475.54,221.86 L476.49,221.33 L477.44,220.80 L478.39,220.26 L479.34,219.73 L480.29,219.19 L481.23,218.66 L482.18,218.12 L483.13,217.58 L484.08,217.03 L485.03,216.49 L485.98,215.95 L486.93,215.40 L487.88,214.85 L488.83,214.31 L489.78,213.76 L490.73,213.21 L491.68,212.65 L492.63,212.10 L493.58,211.55 L494.53,210.99 L495.48,210.43 L496.43,209.87 L497.38,209.31 L498.33,208.75 L499.27,208.19 L500.22,207.63 L501.17,207.06 L502.12,206.49 L503.07,205.93 L504.02,205.36 L504.97,204.79 L505.92,204.21 L506.87,203.64 L507.82,203.07 L508.77,202.49 L509.72,201.91 L510.67,201.34 L511.62,200.76 L512.57,200.18 L513.52,199.59 L514.47,199.01 L515.42,198.42 L516.37,197.84 L517.32,197.25 L518.26,196.66 L519.21,196.07 L520.16,195.48 L521.11,194.89 L522.06,194.29 L523.01,193.70 L523.96,193.10 L524.91,192.50 L525.86,191.90 L526.81,191.30 L527.76,190.70 L528.71,190.10 L529.66,189.49 L530.61,188.89 L531.56,188.28 L532.51,187.67 L533.46,187.06 L534.41,186.45 L535.36,185.84 L536.31,185.23 L537.25,184.61 L538.20,183.99 L539.15,183.38 L540.10,182.76 L541.05,182.14 L542.00,181.52 L542.95,180.89 L543.90,180.27 L544.85,179.64 L545.80,179.02 L546.75,178.39 L547.70,177.76 L548.65,177.13 L549.60,176.50 L549.60,179.96 L548.65,180.58 L547.70,181.20 L546.75,181.81 L545.80,182.43 L544.85,183.04 L543.90,183.65 L542.95,184.26 L542.00,184.87 L541.05,185.48 L540.10,186.08 L539.15,186.69 L538.20,187.29 L537.25,187.89 L536.31,188.49 L535.36,189.09 L534.41,189.69 L533.46,190.29 L532.51,190.89 L531.56,191.48 L530.61,192.07 L529.66,192.67 L528.71,193.26 L527.76,193.85 L526.81,194.43 L525.86,195.02 L524.91,195.61 L523.96,196.19 L523.01,196.77 L522.06,197.36 L521.11,197.94 L520.16,198.52 L519.21,199.09 L518.26,199.67 L517.32,200.25 L516.37,200.82 L515.42,201.39 L514.47,201.96 L513.52,202.54 L512.57,203.10 L511.62,203.67 L510.67,204.24 L509.72,204.80 L508.77,205.37 L507.82,205.93 L506.87,206.49 L505.92,207.05 L504.97,207.61 L504.02,208.17 L503.07,208.72 L502.12,209.28 L501.17,209.83 L500.22,210.39 L499.27,210.94 L498.33,211.49 L497.38,212.03 L496.43,212.58 L495.48,213.13 L494.53,213.67 L493.58,214.22 L492.63,214.76 L491.68,215.30 L490.73,215.84 L489.78,216.38 L488.83,216.91 L487.88,217.45 L486.93,217.98 L485.98,218.52 L485.03,219.05 L484.08,219.58 L483.13,220.11 L482.18,220.64 L481.23,221.16 L480.29,221.69 L479.34,222.21 L478.39,222.74 L477.44,223.26 L476.49,223.78 L475.54,224.30 L474.59,224.82 L473.64,225.33 L472.69,225.85 L471.74,226.36 L470.79,226.87 L469.84,227.39 L468.89,227.90 L467.94,228.40 L466.99,228.91 L466.04,229.42 L465.09,229.92 L464.14,230.43 L463.19,230.93 L462.24,231.43 L461.30,231.93 L460.35,232.43 L459.40,232.93 L458.45,233.42 L457.50,233.92 L456.55,234.41 L455.60,234.90 L454.65,235.39 L453.70,235.88 L452.75,236.37 L451.80,236.86 L450.85,237.34 L449.90,237.83 L448.95,238.31 L448.00,238.79 L447.05,239.27 L446.10,239.75 L445.15,240.23 L444.20,240.71 L443.26,241.18 L442.31,241.66 L441.36,242.13 L440.41,242.60 L439.46,243.07 L438.51,243.54 L437.56,244.01 L436.61,244.48 L435.66,244.94 L434.71,245.41 L433.76,245.87 L432.81,246.33 L431.86,246.79 L430.91,247.25 L429.96,247.71 L429.01,248.16 L428.06,248.62 L427.11,249.07 L426.16,249.52 L425.21,249.98 L424.27,250.43 L423.32,250.87 L422.37,251.32 L421.42,251.77 L420.47,252.21 L419.52,252.66 L418.57,253.10 L417.62,253.54 L416.67,253.98 L415.72,254.42 L414.77,254.85 L413.82,255.29 L412.87,255.72 L411.92,256.16 L410.97,256.59 L410.02,257.02 L409.07,257.45 L408.12,257.88 L407.17,258.31 L406.22,258.73 L405.28,259.16 L404.33,259.58 L403.38,260.00 L402.43,260.42 L401.48,260.84 L400.53,261.26 L399.58,261.67 L398.63,262.09 L397.68,262.50 L396.73,262.92 L395.78,263.33 L394.83,263.74 L393.88,264.15 L392.93,264.55 L391.98,264.96 L391.03,265.37 L390.08,265.77 L389.13,266.17 L388.18,266.57 L387.24,266.97 L386.29,267.37 L385.34,267.77 L384.39,268.17 L383.44,268.56 L382.49,268.95 L381.54,269.35 L380.59,269.74 L379.64,270.13 L378.69,270.51 L377.74,270.90 L376.79,271.29 L375.84,271.67 L374.89,272.06 L373.94,272.44 L372.99,272.82 L372.04,273.20 L371.09,273.58 L370.14,273.95 L369.19,274.33 L368.25,274.70 L367.30,275.08 L366.35,275.45 L365.40,275.82 L364.45,276.19 L363.50,276.56 L362.55,276.92 L361.60,277.29 L360.65,277.65 L359.70,278.01 L358.75,278.38 L357.80,278.74 L356.85,279.09 L355.90,279.45 L354.95,279.81 L354.00,280.16 L353.05,280.52 L352.10,280.87 L351.15,281.22 L350.20,281.57 L349.26,281.92 L348.31,282.27 L347.36,282.61 L346.41,282.96 L345.46,283.30 L344.51,283.64 L343.56,283.99 L342.61,284.33 L341.66,284.66 L340.71,285.00 L339.76,285.34 L338.81,285.67 L337.86,286.00 L336.91,286.34 L335.96,286.67 L335.01,287.00 L334.06,287.32 L333.11,287.65 L332.16,287.98 L331.22,288.30 L330.27,288.62 L329.32,288.95 L328.37,289.27 L327.42,289.59 L326.47,289.90 L325.52,290.22 L324.57,290.54 L323.62,290.85 L322.67,291.16 L321.72,291.47 L320.77,291.79 L319.82,292.09 L318.87,292.40 L317.92,292.71 L316.97,293.01 L316.02,293.32 L315.07,293.62 L314.12,293.92 L313.17,294.22 L312.23,294.52 L311.28,294.82 L310.33,295.11 L309.38,295.41 L308.43,295.70 L307.48,295.99 L306.53,296.29 L305.58,296.58 L304.63,296.86 L303.68,297.15 L302.73,297.44 L301.78,297.72 L300.83,298.00 L299.88,298.29 L298.93,298.57 L297.98,298.85 L297.03,299.13 L296.08,299.40 L295.13,299.68 L294.18,299.95 L293.24,300.23 L292.29,300.50 L291.34,300.77 L290.39,301.04 L289.44,301.31 L288.49,301.57 L287.54,301.84 L286.59,302.10 L285.64,302.36 L284.69,302.63 L283.74,302.89 L282.79,303.15 L281.84,303.40 L280.89,303.66 L279.94,303.91 L278.99,304.17 L278.04,304.42 L277.09,304.67 L276.14,304.92 L275.20,305.17 L274.25,305.42 L273.30,305.66 L272.35,305.91 L271.40,306.15 L270.45,306.40 L269.50,306.64 L268.55,306.88 L267.60,307.12 L266.65,307.35 L265.70,307.59 L264.75,307.82 L263.80,308.06 L262.85,308.29 L261.90,308.52 L260.95,308.75 L260.00,308.98 L259.05,309.20 L258.10,309.43 L257.15,309.65 L256.21,309.88 L255.26,310.10 L254.31,310.32 L253.36,310.54 L252.41,310.76 L251.46,310.97 L250.51,311.19 L249.56,311.40 L248.61,311.62 L247.66,311.83 L246.71,312.04 L245.76,312.25 L244.81,312.46 L243.86,312.66 L242.91,312.87 L241.96,313.07 L241.01,313.27 L240.06,313.47 L239.11,313.67 L238.16,313.87 L237.22,314.07 L236.27,314.27 L235.32,314.46 L234.37,314.66 L233.42,314.85 L232.47,315.04 L231.52,315.23 L230.57,315.42 L229.62,315.61 L228.67,315.79 L227.72,315.98 L226.77,316.16 L225.82,316.34 L224.87,316.52 L223.92,316.70 L222.97,316.88 L222.02,317.06 L221.07,317.23 L220.12,317.41 L219.18,317.58 L218.23,317.75 L217.28,317.92 L216.33,318.09 L215.38,318.26 L214.43,318.43 L213.48,318.59 L212.53,318.76 L211.58,318.92 L210.63,319.08 L209.68,319.24 L208.73,319.40 L207.78,319.56 L206.83,319.72 L205.88,319.87 L204.93,320.02 L203.98,320.18 L203.03,320.33 L202.08,320.48 L201.13,320.63 L200.19,320.78 L199.24,320.92 L198.29,321.07 L197.34,321.21 L196.39,321.35 L195.44,321.49 L194.49,321.63 L193.54,321.77 L192.59,321.91 L191.64,322.05 L190.69,322.18 L189.74,322.31 L188.79,322.45 L187.84,322.58 L186.89,322.71 L185.94,322.83 L184.99,322.96 L184.04,323.09 L183.09,323.21 L182.14,323.34 L181.20,323.46 L180.25,323.58 L179.30,323.70 L178.35,323.82 L177.40,323.93 L176.45,324.05 L175.50,324.16 L174.55,324.28 L173.60,324.39 L172.65,324.50 L171.70,324.61 L170.75,324.71 L169.80,324.82 L168.85,324.93 L167.90,325.03 L166.95,325.13 L166.00,325.23 L165.05,325.33 L164.10,325.43 L163.16,325.53 L162.21,325.63 L161.26,325.72 L160.31,325.82 L159.36,325.91 L158.41,326.00 L157.46,326.09 L156.51,326.18 L155.56,326.27 L154.61,326.35 L153.66,326.44 L152.71,326.52 L151.76,326.60 L150.81,326.68 L149.86,326.76 L148.91,326.84 L147.96,326.92 L147.01,326.99 L146.06,327.07 L145.11,327.14 L144.17,327.21 L143.22,327.28 L142.27,327.35 L141.32,327.42 L140.37,327.49 L139.42,327.55 L138.47,327.62 L137.52,327.68 L136.57,327.74 L135.62,327.80 L134.67,327.86 L133.72,327.92 L132.77,327.98 L131.82,328.03 L130.87,328.09 L129.92,328.14 L128.97,328.19 L128.02,328.24 L127.07,328.29 L126.13,328.34 L125.18,328.38 L124.23,328.43 L123.28,328.47 L122.33,328.52 L121.38,328.56 L120.43,328.60 L119.48,328.64 L118.53,328.67 L117.58,328.71 L116.63,328.74 L115.68,328.78 L114.73,328.81 L113.78,328.84 L112.83,328.87 L111.88,328.90 L110.93,328.93 L109.98,328.95 L109.03,328.98 L108.08,329.00 L107.14,329.02 L106.19,329.04 L105.24,329.06 L104.29,329.08 L103.34,329.10 L102.39,329.11 L101.44,329.13 L100.49,329.14 L99.54,329.15 L98.59,329.16 L97.64,329.17 L96.69,329.18 L95.74,329.19 L94.79,329.19 L93.84,329.19 L92.89,329.20 L91.94,329.20 L90.99,329.20 L90.04,329.20 L89.09,329.20 L88.15,329.19 L87.20,329.19 L86.25,329.18 L85.30,329.17 L84.35,329.17 L83.40,329.16 L82.45,329.14 L81.50,329.13 L80.55,329.12 L79.60,329.10 L78.65,329.09 L77.70,329.07 L76.75,329.05 L75.80,329.03Z" fill="#1010b4" stroke="#1010b4" stroke-width="0.3"/>
<path d="M78.60,329.20h25.4 M91.30,316.50v25.4 M91.30,328.85v0.69 M81.00,328.85h20.6 M81.00,329.55h20.6 M108.12,328.37h25.4 M120.82,315.67v25.4 M120.82,328.02v0.69 M110.52,328.02h20.6 M110.52,328.71h20.6 M137.64,325.99h25.4 M150.34,313.29v25.4 M150.34,325.57v0.83 M140.04,325.57h20.6 M140.04,326.40h20.6 M167.16,322.54h25.4 M179.86,309.84v25.4 M179.86,322.06v0.97 M169.56,322.06h20.6 M169.56,323.03h20.6 M196.68,317.77h25.4 M209.38,305.07v25.4 M209.38,317.22v1.11 M199.08,317.22h20.6 M199.08,318.33h20.6 M226.20,311.24h25.4 M238.90,298.54v25.4 M238.90,310.55v1.38 M228.60,310.55h20.6 M228.60,311.93h20.6 M255.72,304.11h25.4 M268.42,291.41v25.4 M268.42,303.14v1.94 M258.12,303.14h20.6 M258.12,305.08h20.6 M285.24,293.50h25.4 M297.94,280.80v25.4 M297.94,292.32v2.35 M287.64,292.32h20.6 M287.64,294.67h20.6 M314.76,281.11h25.4 M327.46,268.41v25.4 M327.46,279.72v2.77 M317.16,279.72h20.6 M317.16,282.49h20.6 M344.28,266.02h25.4 M356.98,253.32v25.4 M356.98,264.64v2.77 M346.68,264.64h20.6 M346.68,267.40h20.6 M373.80,247.84h25.4 M386.50,235.14v25.4 M386.50,246.46v2.77 M376.20,246.46h20.6 M376.20,249.22h20.6 M403.32,226.26h25.4 M416.02,213.56v25.4 M416.02,224.56v3.39 M405.72,224.56h20.6 M405.72,227.95h20.6 M432.84,200.15h25.4 M445.54,187.45v25.4 M445.54,198.15v4.01 M435.24,198.15h20.6 M435.24,202.16h20.6 M462.36,168.64h25.4 M475.06,155.94v25.4 M475.06,166.43v4.42 M464.76,166.43h20.6 M464.76,170.85h20.6 M491.88,132.09h25.4 M504.58,119.39v25.4 M504.58,129.32v5.53 M494.28,129.32h20.6 M494.28,134.85h20.6 M521.40,89.87h25.4 M534.10,77.17v25.4 M534.10,87.41v4.91 M523.80,87.41h20.6 M523.80,92.32h20.6" stroke="#ff0000" stroke-width="0.65" fill="none"/>
<path d="M75.80,329.03 L76.75,329.05 L77.70,329.07 L78.65,329.08 L79.60,329.10 L80.55,329.12 L81.50,329.13 L82.45,329.14 L83.40,329.15 L84.35,329.16 L85.30,329.17 L86.25,329.18 L87.20,329.19 L88.15,329.19 L89.09,329.20 L90.04,329.20 L90.99,329.20 L91.94,329.20 L92.89,329.20 L93.84,329.19 L94.79,329.19 L95.74,329.19 L96.69,329.18 L97.64,329.17 L98.59,329.16 L99.54,329.15 L100.49,329.14 L101.44,329.13 L102.39,329.11 L103.34,329.09 L104.29,329.08 L105.24,329.06 L106.19,329.04 L107.14,329.02 L108.08,329.00 L109.03,328.97 L109.98,328.95 L110.93,328.92 L111.88,328.89 L112.83,328.86 L113.78,328.83 L114.73,328.80 L115.68,328.77 L116.63,328.74 L117.58,328.70 L118.53,328.66 L119.48,328.63 L120.43,328.59 L121.38,328.55 L122.33,328.50 L123.28,328.46 L124.23,328.42 L125.18,328.37 L126.13,328.32 L127.07,328.27 L128.02,328.22 L128.97,328.17 L129.92,328.12 L130.87,328.07 L131.82,328.01 L132.77,327.95 L133.72,327.89 L134.67,327.84 L135.62,327.77 L136.57,327.71 L137.52,327.65 L138.47,327.58 L139.42,327.52 L140.37,327.45 L141.32,327.38 L142.27,327.31 L143.22,327.24 L144.17,327.17 L145.11,327.09 L146.06,327.02 L147.01,326.94 L147.96,326.86 L148.91,326.78 L149.86,326.70 L150.81,326.62 L151.76,326.53 L152.71,326.45 L153.66,326.36 L154.61,326.27 L155.56,326.18 L156.51,326.09 L157.46,326.00 L158.41,325.90 L159.36,325.81 L160.31,325.71 L161.26,325.61 L162.21,325.51 L163.16,325.41 L164.10,325.31 L165.05,325.21 L166.00,325.10 L166.95,324.99 L167.90,324.88 L168.85,324.77 L169.80,324.66 L170.75,324.55 L171.70,324.44 L172.65,324.32 L173.60,324.20 L174.55,324.08 L175.50,323.96 L176.45,323.84 L177.40,323.72 L178.35,323.60 L179.30,323.47 L180.25,323.34 L181.20,323.21 L182.14,323.08 L183.09,322.95 L184.04,322.82 L184.99,322.68 L185.94,322.54 L186.89,322.40 L187.84,322.26 L188.79,322.12 L189.74,321.98 L190.69,321.84 L191.64,321.69 L192.59,321.54 L193.54,321.39 L194.49,321.24 L195.44,321.09 L196.39,320.93 L197.34,320.78 L198.29,320.62 L199.24,320.46 L200.19,320.30 L201.13,320.14 L202.08,319.98 L203.03,319.81 L203.98,319.64 L204.93,319.47 L205.88,319.30 L206.83,319.13 L207.78,318.96 L208.73,318.78 L209.68,318.61 L210.63,318.43 L211.58,318.25 L212.53,318.06 L213.48,317.88 L214.43,317.69 L215.38,317.51 L216.33,317.32 L217.28,317.13 L218.23,316.93 L219.18,316.74 L220.12,316.54 L221.07,316.35 L222.02,316.15 L222.97,315.95 L223.92,315.74 L224.87,315.54 L225.82,315.33 L226.77,315.12 L227.72,314.91 L228.67,314.70 L229.62,314.49 L230.57,314.27 L231.52,314.05 L232.47,313.83 L233.42,313.61 L234.37,313.39 L235.32,313.16 L236.27,312.94 L237.22,312.71 L238.16,312.48 L239.11,312.25 L240.06,312.01 L241.01,311.78 L241.96,311.54 L242.91,311.30 L243.86,311.06 L244.81,310.81 L245.76,310.57 L246.71,310.32 L247.66,310.07 L248.61,309.82 L249.56,309.56 L250.51,309.31 L251.46,309.05 L252.41,308.79 L253.36,308.53 L254.31,308.26 L255.26,308.00 L256.21,307.73 L257.15,307.46 L258.10,307.19 L259.05,306.91 L260.00,306.64 L260.95,306.36 L261.90,306.08 L262.85,305.80 L263.80,305.51 L264.75,305.23 L265.70,304.94 L266.65,304.65 L267.60,304.35 L268.55,304.06 L269.50,303.76 L270.45,303.46 L271.40,303.16 L272.35,302.86 L273.30,302.55 L274.25,302.24 L275.20,301.93 L276.14,301.62 L277.09,301.30 L278.04,300.99 L278.99,300.67 L279.94,300.35 L280.89,300.02 L281.84,299.70 L282.79,299.37 L283.74,299.04 L284.69,298.70 L285.64,298.37 L286.59,298.03 L287.54,297.69 L288.49,297.35 L289.44,297.00 L290.39,296.65 L291.34,296.30 L292.29,295.95 L293.24,295.60 L294.18,295.24 L295.13,294.88 L296.08,294.52 L297.03,294.16 L297.98,293.79 L298.93,293.42 L299.88,293.05 L300.83,292.67 L301.78,292.30 L302.73,291.92 L303.68,291.54 L304.63,291.15 L305.58,290.76 L306.53,290.38 L307.48,289.98 L308.43,289.59 L309.38,289.19 L310.33,288.79 L311.28,288.39 L312.23,287.98 L313.17,287.58 L314.12,287.17 L315.07,286.75 L316.02,286.34 L316.97,285.92 L317.92,285.50 L318.87,285.07 L319.82,284.65 L320.77,284.22 L321.72,283.79 L322.67,283.35 L323.62,282.92 L324.57,282.47 L325.52,282.03 L326.47,281.59 L327.42,281.14 L328.37,280.69 L329.32,280.23 L330.27,279.77 L331.22,279.31 L332.16,278.85 L333.11,278.39 L334.06,277.92 L335.01,277.45 L335.96,276.97 L336.91,276.49 L337.86,276.01 L338.81,275.53 L339.76,275.04 L340.71,274.55 L341.66,274.06 L342.61,273.57 L343.56,273.07 L344.51,272.56 L345.46,272.06 L346.41,271.55 L347.36,271.04 L348.31,270.53 L349.26,270.01 L350.20,269.49 L351.15,268.97 L352.10,268.44 L353.05,267.91 L354.00,267.38 L354.95,266.84 L355.90,266.30 L356.85,265.76 L357.80,265.22 L358.75,264.67 L359.70,264.11 L360.65,263.56 L361.60,263.00 L362.55,262.44 L363.50,261.87 L364.45,261.30 L365.40,260.73 L366.35,260.16 L367.30,259.58 L368.25,259.00 L369.19,258.41 L370.14,257.82 L371.09,257.23 L372.04,256.63 L372.99,256.03 L373.94,255.43 L374.89,254.82 L375.84,254.21 L376.79,253.60 L377.74,252.98 L378.69,252.36 L379.64,251.74 L380.59,251.11 L381.54,250.48 L382.49,249.84 L383.44,249.21 L384.39,248.56 L385.34,247.92 L386.29,247.27 L387.24,246.62 L388.18,245.96 L389.13,245.30 L390.08,244.63 L391.03,243.97 L391.98,243.29 L392.93,242.62 L393.88,241.94 L394.83,241.26 L395.78,240.57 L396.73,239.88 L397.68,239.18 L398.63,238.48 L399.58,237.78 L400.53,237.07 L401.48,236.36 L402.43,235.65 L403.38,234.93 L404.33,234.21 L405.28,233.48 L406.22,232.75 L407.17,232.02 L408.12,231.28 L409.07,230.54 L410.02,229.79 L410.97,229.04 L411.92,228.29 L412.87,227.53 L413.82,226.76 L414.77,226.00 L415.72,225.23 L416.67,224.45 L417.62,223.67 L418.57,222.89 L419.52,222.10 L420.47,221.31 L421.42,220.51 L422.37,219.71 L423.32,218.90 L424.27,218.09 L425.21,217.28 L426.16,216.46 L427.11,215.64 L428.06,214.81 L429.01,213.98 L429.96,213.14 L430.91,212.30 L431.86,211.46 L432.81,210.61 L433.76,209.75 L434.71,208.90 L435.66,208.03 L436.61,207.16 L437.56,206.29 L438.51,205.42 L439.46,204.53 L440.41,203.65 L441.36,202.76 L442.31,201.86 L443.26,200.96 L444.20,200.06 L445.15,199.15 L446.10,198.23 L447.05,197.32 L448.00,196.39 L448.95,195.46 L449.90,194.53 L450.85,193.59 L451.80,192.65 L452.75,191.70 L453.70,190.75 L454.65,189.79 L455.60,188.83 L456.55,187.86 L457.50,186.89 L458.45,185.91 L459.40,184.93 L460.35,183.94 L461.30,182.95 L462.24,181.95 L463.19,180.95 L464.14,179.94 L465.09,178.93 L466.04,177.91 L466.99,176.89 L467.94,175.86 L468.89,174.82 L469.84,173.78 L470.79,172.74 L471.74,171.69 L472.69,170.64 L473.64,169.58 L474.59,168.51 L475.54,167.44 L476.49,166.36 L477.44,165.28 L478.39,164.20 L479.34,163.10 L480.29,162.01 L481.23,160.90 L482.18,159.79 L483.13,158.68 L484.08,157.56 L485.03,156.44 L485.98,155.31 L486.93,154.17 L487.88,153.03 L488.83,151.88 L489.78,150.73 L490.73,149.57 L491.68,148.40 L492.63,147.23 L493.58,146.06 L494.53,144.88 L495.48,143.69 L496.43,142.50 L497.38,141.30 L498.33,140.09 L499.27,138.88 L500.22,137.66 L501.17,136.44 L502.12,135.21 L503.07,133.98 L504.02,132.74 L504.97,131.49 L505.92,130.24 L506.87,128.98 L507.82,127.72 L508.77,126.45 L509.72,125.17 L510.67,123.89 L511.62,122.60 L512.57,121.30 L513.52,120.00 L514.47,118.70 L515.42,117.38 L516.37,116.06 L517.32,114.74 L518.26,113.40 L519.21,112.07 L520.16,110.72 L521.11,109.37 L522.06,108.01 L523.01,106.65 L523.96,105.28 L524.91,103.90 L525.86,102.52 L526.81,101.13 L527.76,99.73 L528.71,98.33 L529.66,96.92 L530.61,95.50 L531.56,94.08 L532.51,92.65 L533.46,91.21 L534.41,89.77 L535.36,88.32 L536.31,86.86 L537.25,85.40 L538.20,83.93 L539.15,82.46 L540.10,80.97 L541.05,79.48 L542.00,77.99 L542.95,76.48 L543.90,74.97 L544.85,73.45 L545.80,71.93 L546.75,70.40 L547.70,68.86 L548.65,67.31 L549.60,65.76" stroke="#ff00ff" stroke-width="0.75" fill="none"/>
<path d="M75.80,329.03 L76.75,329.05 L77.70,329.07 L78.65,329.08 L79.60,329.10 L80.55,329.12 L81.50,329.13 L82.45,329.14 L83.40,329.15 L84.35,329.16 L85.30,329.17 L86.25,329.18 L87.20,329.19 L88.15,329.19 L89.09,329.20 L90.04,329.20 L90.99,329.20 L91.94,329.20 L92.89,329.19 L93.84,329.19 L94.79,329.18 L95.74,329.17 L96.69,329.16 L97.64,329.15 L98.59,329.14 L99.54,329.13 L100.49,329.11 L101.44,329.10 L102.39,329.08 L103.34,329.06 L104.29,329.04 L105.24,329.02 L106.19,329.00 L107.14,328.97 L108.08,328.95 L109.03,328.92 L109.98,328.90 L110.93,328.87 L111.88,328.84 L112.83,328.80 L113.78,328.77 L114.73,328.74 L115.68,328.70 L116.63,328.66 L117.58,328.63 L118.53,328.59 L119.48,328.55 L120.43,328.50 L121.38,328.46 L122.33,328.42 L123.28,328.37 L124.23,328.32 L125.18,328.27 L126.13,328.22 L127.07,328.17 L128.02,328.12 L128.97,328.07 L129.92,328.01 L130.87,327.95 L131.82,327.90 L132.77,327.84 L133.72,327.78 L134.67,327.71 L135.62,327.65 L136.57,327.59 L137.52,327.52 L138.47,327.45 L139.42,327.38 L140.37,327.31 L141.32,327.24 L142.27,327.17 L143.22,327.09 L144.17,327.02 L145.11,326.94 L146.06,326.86 L147.01,326.78 L147.96,326.70 L148.91,326.62 L149.86,326.53 L150.81,326.45 L151.76,326.36 L152.71,326.27 L153.66,326.18 L154.61,326.09 L155.56,326.00 L156.51,325.91 L157.46,325.81 L158.41,325.72 L159.36,325.62 L160.31,325.52 L161.26,325.42 L162.21,325.31 L163.16,325.21 L164.10,325.11 L165.05,325.00 L166.00,324.89 L166.95,324.77 L167.90,324.66 L168.85,324.54 L169.80,324.43 L170.75,324.31 L171.70,324.19 L172.65,324.06 L173.60,323.94 L174.55,323.82 L175.50,323.69 L176.45,323.56 L177.40,323.43 L178.35,323.30 L179.30,323.17 L180.25,323.03 L181.20,322.90 L182.14,322.76 L183.09,322.62 L184.04,322.48 L184.99,322.34 L185.94,322.20 L186.89,322.05 L187.84,321.91 L188.79,321.76 L189.74,321.61 L190.69,321.46 L191.64,321.31 L192.59,321.15 L193.54,321.00 L194.49,320.84 L195.44,320.68 L196.39,320.52 L197.34,320.36 L198.29,320.20 L199.24,320.03 L200.19,319.86 L201.13,319.70 L202.08,319.53 L203.03,319.35 L203.98,319.18 L204.93,319.01 L205.88,318.83 L206.83,318.65 L207.78,318.47 L208.73,318.29 L209.68,318.11 L210.63,317.92 L211.58,317.73 L212.53,317.55 L213.48,317.36 L214.43,317.16 L215.38,316.97 L216.33,316.77 L217.28,316.58 L218.23,316.38 L219.18,316.18 L220.12,315.98 L221.07,315.77 L222.02,315.57 L222.97,315.36 L223.92,315.15 L224.87,314.94 L225.82,314.73 L226.77,314.51 L227.72,314.29 L228.67,314.08 L229.62,313.86 L230.57,313.63 L231.52,313.41 L232.47,313.18 L233.42,312.96 L234.37,312.73 L235.32,312.50 L236.27,312.26 L237.22,312.03 L238.16,311.79 L239.11,311.56 L240.06,311.32 L241.01,311.09 L241.96,310.85 L242.91,310.62 L243.86,310.38 L244.81,310.13 L245.76,309.89 L246.71,309.64 L247.66,309.40 L248.61,309.15 L249.56,308.90 L250.51,308.64 L251.46,308.39 L252.41,308.13 L253.36,307.87 L254.31,307.61 L255.26,307.34 L256.21,307.08 L257.15,306.81 L258.10,306.54 L259.05,306.27 L260.00,306.00 L260.95,305.72 L261.90,305.44 L262.85,305.16 L263.80,304.88 L264.75,304.60 L265.70,304.31 L266.65,304.02 L267.60,303.73 L268.55,303.44 L269.50,303.14 L270.45,302.84 L271.40,302.54 L272.35,302.24 L273.30,301.94 L274.25,301.63 L275.20,301.33 L276.14,301.01 L277.09,300.70 L278.04,300.39 L278.99,300.07 L279.94,299.75 L280.89,299.43 L281.84,299.10 L282.79,298.78 L283.74,298.45 L284.69,298.12 L285.64,297.79 L286.59,297.45 L287.54,297.11 L288.49,296.77 L289.44,296.43 L290.39,296.08 L291.34,295.74 L292.29,295.39 L293.24,295.03 L294.18,294.68 L295.13,294.32 L296.08,293.96 L297.03,293.60 L297.98,293.24 L298.93,292.88 L299.88,292.51 L300.83,292.15 L301.78,291.78 L302.73,291.41 L303.68,291.04 L304.63,290.66 L305.58,290.28 L306.53,289.90 L307.48,289.52 L308.43,289.13 L309.38,288.75 L310.33,288.35 L311.28,287.96 L312.23,287.57 L313.17,287.17 L314.12,286.77 L315.07,286.36 L316.02,285.95 L316.97,285.54 L317.92,285.13 L318.87,284.72 L319.82,284.30 L320.77,283.88 L321.72,283.46 L322.67,283.03 L323.62,282.60 L324.57,282.17 L325.52,281.74 L326.47,281.30 L327.42,280.86 L328.37,280.42 L329.32,279.97 L330.27,279.52 L331.22,279.07 L332.16,278.62 L333.11,278.16 L334.06,277.70 L335.01,277.24 L335.96,276.77 L336.91,276.30 L337.86,275.83 L338.81,275.36 L339.76,274.88 L340.71,274.40 L341.66,273.92 L342.61,273.43 L343.56,272.94 L344.51,272.45 L345.46,271.95 L346.41,271.45 L347.36,270.95 L348.31,270.45 L349.26,269.94 L350.20,269.43 L351.15,268.91 L352.10,268.40 L353.05,267.87 L354.00,267.35 L354.95,266.82 L355.90,266.29 L356.85,265.76 L357.80,265.23 L358.75,264.69 L359.70,264.15 L360.65,263.61 L361.60,263.06 L362.55,262.52 L363.50,261.96 L364.45,261.41 L365.40,260.85 L366.35,260.29 L367.30,259.72 L368.25,259.15 L369.19,258.58 L370.14,258.01 L371.09,257.43 L372.04,256.84 L372.99,256.26 L373.94,255.67 L374.89,255.08 L375.84,254.48 L376.79,253.88 L377.74,253.28 L378.69,252.67 L379.64,252.06 L380.59,251.44 L381.54,250.82 L382.49,250.20 L383.44,249.58 L384.39,248.95 L385.34,248.32 L386.29,247.68 L387.24,247.03 L388.18,246.38 L389.13,245.72 L390.08,245.06 L391.03,244.40 L391.98,243.73 L392.93,243.06 L393.88,242.38 L394.83,241.70 L395.78,241.02 L396.73,240.33 L397.68,239.64 L398.63,238.94 L399.58,238.25 L400.53,237.54 L401.48,236.84 L402.43,236.12 L403.38,235.41 L404.33,234.69 L405.28,233.97 L406.22,233.24 L407.17,232.51 L408.12,231.78 L409.07,231.04 L410.02,230.29 L410.97,229.55 L411.92,228.80 L412.87,228.04 L413.82,227.28 L414.77,226.52 L415.72,225.75 L416.67,224.98 L417.62,224.20 L418.57,223.42 L419.52,222.64 L420.47,221.85 L421.42,221.05 L422.37,220.26 L423.32,219.46 L424.27,218.65 L425.21,217.84 L426.16,217.02 L427.11,216.20 L428.06,215.38 L429.01,214.55 L429.96,213.72 L430.91,212.88 L431.86,212.04 L432.81,211.20 L433.76,210.35 L434.71,209.49 L435.66,208.63 L436.61,207.77 L437.56,206.90 L438.51,206.03 L439.46,205.15 L440.41,204.27 L441.36,203.38 L442.31,202.49 L443.26,201.59 L444.20,200.69 L445.15,199.78 L446.10,198.87 L447.05,197.96 L448.00,197.04 L448.95,196.11 L449.90,195.18 L450.85,194.25 L451.80,193.31 L452.75,192.36 L453.70,191.41 L454.65,190.46 L455.60,189.50 L456.55,188.54 L457.50,187.57 L458.45,186.59 L459.40,185.62 L460.35,184.63 L461.30,183.64 L462.24,182.64 L463.19,181.63 L464.14,180.62 L465.09,179.61 L466.04,178.59 L466.99,177.56 L467.94,176.53 L468.89,175.49 L469.84,174.45 L470.79,173.41 L471.74,172.36 L472.69,171.30 L473.64,170.24 L474.59,169.17 L475.54,168.10 L476.49,167.02 L477.44,165.93 L478.39,164.85 L479.34,163.75 L480.29,162.65 L481.23,161.55 L482.18,160.43 L483.13,159.32 L484.08,158.20 L485.03,157.07 L485.98,155.94 L486.93,154.80 L487.88,153.65 L488.83,152.50 L489.78,151.35 L490.73,150.19 L491.68,149.02 L492.63,147.85 L493.58,146.67 L494.53,145.49 L495.48,144.30 L496.43,143.10 L497.38,141.90 L498.33,140.69 L499.27,139.48 L500.22,138.26 L501.17,137.04 L502.12,135.81 L503.07,134.57 L504.02,133.33 L504.97,132.08 L505.92,130.82 L506.87,129.56 L507.82,128.30 L508.77,127.02 L509.72,125.75 L510.67,124.46 L511.62,123.17 L512.57,121.87 L513.52,120.57 L514.47,119.26 L515.42,117.94 L516.37,116.62 L517.32,115.29 L518.26,113.96 L519.21,112.62 L520.16,111.26 L521.11,109.90 L522.06,108.53 L523.01,107.16 L523.96,105.78 L524.91,104.39 L525.86,102.99 L526.81,101.59 L527.76,100.18 L528.71,98.77 L529.66,97.35 L530.61,95.92 L531.56,94.49 L532.51,93.05 L533.46,91.60 L534.41,90.15 L535.36,88.69 L536.31,87.22 L537.25,85.75 L538.20,84.26 L539.15,82.78 L540.10,81.28 L541.05,79.78 L542.00,78.27 L542.95,76.76 L543.90,75.24 L544.85,73.71 L545.80,72.17 L546.75,70.63 L547.70,69.08 L548.65,67.52 L549.60,65.97" stroke="#000" stroke-width="0.65" fill="none"/>
</g>
<rect x="321.0" y="27.35" width="48.20" height="9.4" fill="#d9d9d9"/>
<rect x="321.0" y="45.02" width="48.20" height="9.4" fill="#999999"/>
<rect x="321.0" y="62.69" width="48.20" height="9.4" fill="#1010b4"/>
<path d="M321.0,85.40H369.2 M321.3,82.65v5.5 M368.9,82.65v5.5 M345.45,72.70v25.4" stroke="#ff0000" stroke-width="0.65" fill="none"/>
<path d="M321.0,103.0H369.2" stroke="#ff00ff" stroke-width="0.75" fill="none"/>
<path d="M321.0,120.45H369.2" stroke="#000" stroke-width="0.65" fill="none"/>
<rect x="76.5" y="17.85" width="472.70000000000005" height="331.84999999999997" fill="none" stroke="#000" stroke-width="1.15"/>
<text x="310.7" y="38.35" text-anchor="end" font-family="Liberation Sans, sans-serif" font-size="17.7" fill="#000" style="font-kerning:none">Taylor exp. 6th order</text>
<text x="310.7" y="56.02" text-anchor="end" font-family="Liberation Sans, sans-serif" font-size="17.7" fill="#000" style="font-kerning:none">Taylor exp. 4th order</text>
<text x="310.7" y="73.69" text-anchor="end" font-family="Liberation Sans, sans-serif" font-size="17.7" fill="#000" style="font-kerning:none">Taylor exp. 2nd order</text>
<text x="310.7" y="91.36" text-anchor="end" font-family="Liberation Sans, sans-serif" font-size="17.7" fill="#000" style="font-kerning:none">CLE</text>
<text x="310.7" y="109.03" text-anchor="end" font-family="Liberation Sans, sans-serif" font-size="17.7" fill="#000" style="font-kerning:none">4th order fit</text>
<text x="310.7" y="126.70" text-anchor="end" font-family="Liberation Sans, sans-serif" font-size="17.7" fill="#000" style="font-kerning:none">6th order fit</text>
<text x="65.6" y="335.65" text-anchor="end" font-family="Liberation Sans, sans-serif" font-size="17.7" fill="#000" style="font-kerning:none">0</text>
<text x="65.6" y="301.08" text-anchor="end" font-family="Liberation Sans, sans-serif" font-size="17.7" fill="#000" style="font-kerning:none">5</text>
<text x="65.6" y="266.51" text-anchor="end" font-family="Liberation Sans, sans-serif" font-size="17.7" fill="#000" style="font-kerning:none">10</text>
<text x="65.6" y="231.95" text-anchor="end" font-family="Liberation Sans, sans-serif" font-size="17.7" fill="#000" style="font-kerning:none">15</text>
<text x="65.6" y="197.38" text-anchor="end" font-family="Liberation Sans, sans-serif" font-size="17.7" fill="#000" style="font-kerning:none">20</text>
<text x="65.6" y="162.81" text-anchor="end" font-family="Liberation Sans, sans-serif" font-size="17.7" fill="#000" style="font-kerning:none">25</text>
<text x="65.6" y="128.24" text-anchor="end" font-family="Liberation Sans, sans-serif" font-size="17.7" fill="#000" style="font-kerning:none">30</text>
<text x="65.6" y="93.68" text-anchor="end" font-family="Liberation Sans, sans-serif" font-size="17.7" fill="#000" style="font-kerning:none">35</text>
<text x="65.6" y="59.11" text-anchor="end" font-family="Liberation Sans, sans-serif" font-size="17.7" fill="#000" style="font-kerning:none">40</text>
<text x="65.6" y="24.54" text-anchor="end" font-family="Liberation Sans, sans-serif" font-size="17.7" fill="#000" style="font-kerning:none">45</text>
<text x="93.80" y="374.0" text-anchor="middle" font-family="Liberation Sans, sans-serif" font-size="17.7" fill="#000" style="font-kerning:none">0</text>
<text x="167.60" y="374.0" text-anchor="middle" font-family="Liberation Sans, sans-serif" font-size="17.7" fill="#000" style="font-kerning:none">0.5</text>
<text x="241.40" y="374.0" text-anchor="middle" font-family="Liberation Sans, sans-serif" font-size="17.7" fill="#000" style="font-kerning:none">1</text>
<text x="315.20" y="374.0" text-anchor="middle" font-family="Liberation Sans, sans-serif" font-size="17.7" fill="#000" style="font-kerning:none">1.5</text>
<text x="389.00" y="374.0" text-anchor="middle" font-family="Liberation Sans, sans-serif" font-size="17.7" fill="#000" style="font-kerning:none">2</text>
<text x="462.80" y="374.0" text-anchor="middle" font-family="Liberation Sans, sans-serif" font-size="17.7" fill="#000" style="font-kerning:none">2.5</text>
<text x="536.60" y="374.0" text-anchor="middle" font-family="Liberation Sans, sans-serif" font-size="17.7" fill="#000" style="font-kerning:none">3</text>
<text x="313.2" y="400.2" text-anchor="middle" font-family="Liberation Sans, sans-serif" font-size="17.7" fill="#000" style="font-kerning:none">μ/T</text>
<text transform="translate(24.4,184.2) rotate(-90)" text-anchor="middle" word-spacing="0.4" font-family="Liberation Sans, sans-serif" font-size="17.7" fill="#000" style="font-kerning:none">Δ ( p / T<tspan dy="-9.5" font-size="14.2">4</tspan><tspan dy="9.5"> )</tspan></text>
<text x="135.9" y="183.0" letter-spacing="0.01" font-family="Liberation Sans, sans-serif" font-size="17.7" fill="#000" style="font-kerning:none">16<tspan dy="-9.3" font-size="14.2">3</tspan><tspan dy="9.0" font-size="15.9">*</tspan><tspan dy="0.3">8, </tspan><tspan font-size="16.5">β</tspan>=5.3, N<tspan dy="6.2" font-size="14.2">F</tspan><tspan dy="-6.2">=4, m=0.01</tspan></text>
<text x="145.4" y="231.4" font-family="Liberation Sans, sans-serif" font-size="17.7" fill="#000" style="font-kerning:none">T <tspan dy="1" font-size="17.3">≈</tspan><tspan dy="-1"> 300 MeV</tspan></text>
<text x="135.6" y="247.6" font-family="Liberation Sans, sans-serif" font-size="17.7" fill="#000" style="font-kerning:none">m<tspan dy="5.5" font-size="15.0" font-family="Liberation Serif, serif">π</tspan><tspan dy="-5.5"> </tspan><tspan dy="1" font-size="17.3">≈</tspan><tspan dy="-1"> 655 MeV</tspan></text>
</svg>
</body></html>
